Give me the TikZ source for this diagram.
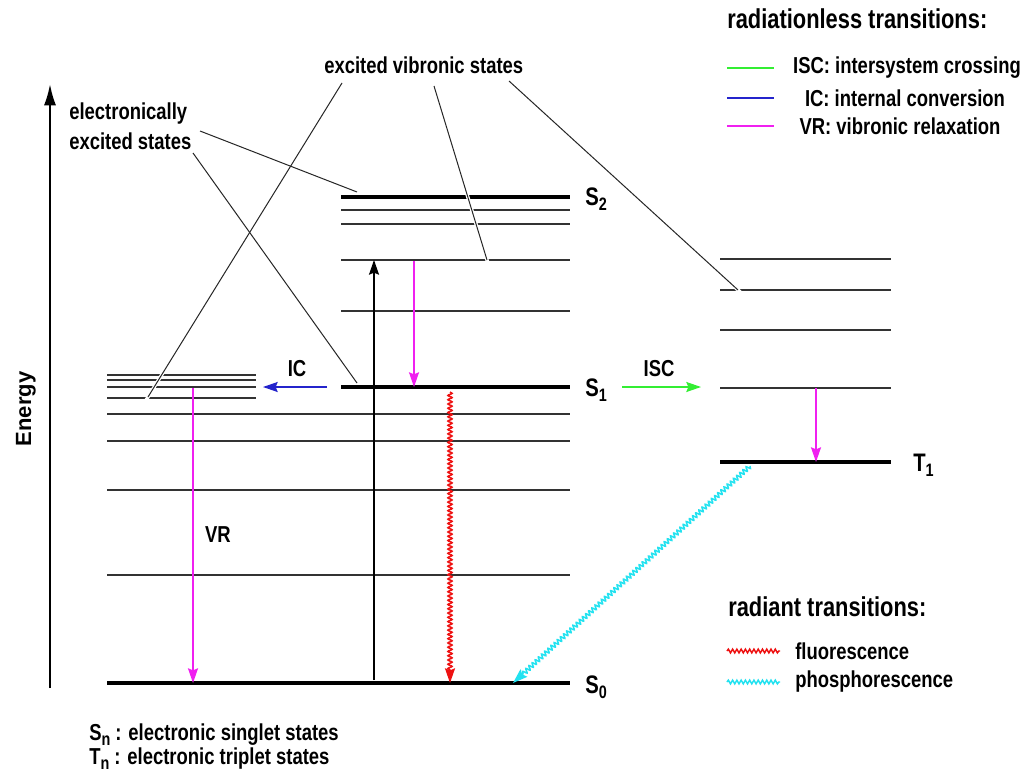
\documentclass[tikz,border=0pt]{standalone}
\usepackage{fontspec}
\setmainfont{Liberation Sans}[FakeStretch=0.8]
\newfontfamily\efont{Liberation Sans}
\usetikzlibrary{arrows.meta,decorations.pathmorphing,calc}
\definecolor{vrmag}{HTML}{F020F0}
\definecolor{icblue}{HTML}{2424CC}
\definecolor{iscgreen}{HTML}{33EE33}
\definecolor{flred}{HTML}{EE1111}
\definecolor{phcyan}{HTML}{22E2F0}
\newcommand{\lowix}[1]{\raisebox{-0.4ex}{\fontsize{13.5}{13}\selectfont #1}}
\tikzset{
  lbl/.style={font=\bfseries\fontsize{17.3}{22}\selectfont, inner sep=0pt},
  head/.style={font=\bfseries\fontsize{20.5}{24}\selectfont, inner sep=0pt},
  slbl/.style={font=\bfseries\fontsize{19}{22}\selectfont, inner sep=0pt, anchor=west},
  lvthin/.style={line width=1pt, draw=black!80},
  lvthick/.style={line width=3.6pt},
  leader/.style={line width=0.75pt, draw=black!85},
  halo/.style={line width=2.6pt, draw=white},
  trans/.style={line width=1.1pt, -{Stealth[length=11pt,width=7.5pt,inset=1.5pt]}},
  wavy/.style={line width=1.1pt, decorate,
     decoration={snake, amplitude=1.6pt, segment length=3.2pt, post length=9pt},
     -{Stealth[length=11pt,width=7.5pt,inset=1.5pt]}},
  wavyleg/.style={line width=1.1pt, decorate,
     decoration={snake, amplitude=1.4pt, segment length=3.2pt}}
}
\begin{document}
\begin{tikzpicture}[x=0.75pt,y=-0.75pt]
\useasboundingbox[fill=white] (0,0) rectangle (1027,774);

% ---------- energy axis ----------
\coordinate (ebot) at (50,688);
\coordinate (etop) at (50,84);
\draw[line width=1.6pt, -{Latex[length=16pt,width=9pt]}] (ebot) -- (etop);
\node[rotate=90, font=\efont\bfseries\fontsize{16.5}{20}\selectfont, inner sep=0pt] (energy) at (26,409) {Energy};

% ---------- left column (S0 vibronic) ----------
\foreach \y/\n in {375/a,380/b,387/c,398/d}{
  \coordinate (L\n w) at (107,\y); \coordinate (L\n e) at (256,\y);
  \draw[lvthin] (L\n w) -- (L\n e);
}
\foreach \y/\n in {414/e,441/f,490/g,575/h}{
  \coordinate (L\n w) at (107,\y); \coordinate (L\n e) at (570,\y);
  \draw[lvthin] (L\n w) -- (L\n e);
}
\coordinate (S0w) at (107,683); \coordinate (S0e) at (570,683);
\draw[lvthick] (S0w) -- (S0e);

% ---------- middle column (S1, S2) ----------
\coordinate (S2w) at (341,197); \coordinate (S2e) at (570,197);
\draw[lvthick] (S2w) -- (S2e);
\foreach \y/\n in {210/a,224/b,260/c,311/d}{
  \coordinate (M\n w) at (341,\y); \coordinate (M\n e) at (570,\y);
  \draw[lvthin] (M\n w) -- (M\n e);
}
\coordinate (S1w) at (341,387); \coordinate (S1e) at (570,387);
\draw[lvthick] (S1w) -- (S1e);

% ---------- right column (T1) ----------
\foreach \y/\n in {259/a,290/b,330/c,388/d}{
  \coordinate (T\n w) at (720,\y); \coordinate (T\n e) at (891,\y);
  \draw[lvthin] (T\n w) -- (T\n e);
}
\coordinate (T1w) at (720,462); \coordinate (T1e) at (891,462);
\draw[lvthick] (T1w) -- (T1e);

% ---------- state labels ----------
\node[slbl] (lS2) at (585,199) {S\lowix{2}};
\node[slbl] (lS1) at (585,390) {S\lowix{1}};
\node[slbl] (lS0) at (585,687) {S\lowix{0}};
\node[slbl] (lT1) at (913,465) {T\lowix{1}};

% ---------- leader labels ----------
\node[lbl, anchor=west] (vib) at (324,65) {excited vibronic states};
\node[lbl, anchor=north west, align=left] (elec) at (69,103) {electronically\\excited states};

\coordinate (v1a) at (342,83);  \coordinate (v1b) at (148,397);
\coordinate (v2a) at (434,86);  \coordinate (v2b) at (487,260);
\coordinate (v3a) at (509,81);  \coordinate (v3b) at (738,290);
\coordinate (e1a) at (200,131); \coordinate (e1b) at (357,192);
\coordinate (e2a) at (193,153); \coordinate (e2b) at (357,383);

\foreach \a/\b in {v1a/v1b,v2a/v2b,v3a/v3b}
  \draw[halo] ($(\a)!0.5!(\b)$) -- ($(\a)!1.02!(\b)$);
\foreach \a/\b in {v1a/v1b,v2a/v2b,v3a/v3b,e1a/e1b,e2a/e2b}
  \draw[leader] (\a) -- (\b);

% ---------- transitions ----------
\coordinate (absA) at (374,680); \coordinate (absB) at (374,260);
\draw[trans, black] (absA) -- (absB);

\coordinate (vr1a) at (414,261); \coordinate (vr1b) at (414,387);
\draw[trans, vrmag] (vr1a) -- (vr1b);
\coordinate (vr2a) at (193,388); \coordinate (vr2b) at (193,683);
\draw[trans, vrmag] (vr2a) -- (vr2b);
\coordinate (vr3a) at (816,388); \coordinate (vr3b) at (816,462);
\draw[trans, vrmag] (vr3a) -- (vr3b);
\node[lbl] (vrl) at (218,535) {VR};

\coordinate (ica) at (327,387); \coordinate (icb) at (263,387);
\draw[trans, icblue] (ica) -- (icb);
\node[lbl] (icl) at (297,369) {IC};

\coordinate (isca) at (622,387); \coordinate (iscb) at (701,387);
\draw[trans, iscgreen] (isca) -- (iscb);
\node[lbl] (iscl) at (659,369) {ISC};

\coordinate (fla) at (450,392); \coordinate (flb) at (450,683);
\draw[wavy, flred] (fla) -- (flb);
\coordinate (pha) at (750,466); \coordinate (phb) at (513,683);
\draw[wavy, phcyan] (pha) -- (phb);

% ---------- legends ----------
\node[head, anchor=west] (h1) at (727,19) {radiationless transitions:};
\coordinate (g1a) at (727,68);  \coordinate (g1b) at (774,68);
\coordinate (g2a) at (727,98);  \coordinate (g2b) at (774,98);
\coordinate (g3a) at (727,126); \coordinate (g3b) at (774,126);
\draw[line width=1.1pt, iscgreen] (g1a) -- (g1b);
\draw[line width=1.1pt, icblue] (g2a) -- (g2b);
\draw[line width=1.1pt, vrmag] (g3a) -- (g3b);
\node[lbl] (t1) at (907,68) {ISC: intersystem crossing};
\node[lbl] (t2) at (905,98) {IC: internal conversion};
\node[lbl] (t3) at (900,126) {VR: vibronic relaxation};

\node[head, anchor=west] (h2) at (728,607) {radiant transitions:};
\coordinate (r1a) at (727,651); \coordinate (r1b) at (780,651);
\coordinate (r2a) at (727,682); \coordinate (r2b) at (780,682);
\draw[wavyleg, flred] (r1a) -- (r1b);
\draw[wavyleg, phcyan] (r2a) -- (r2b);
\node[lbl, anchor=west] (t4) at (795,651) {fluorescence};
\node[lbl, anchor=west] (t5) at (795,682) {phosphorescence};

\node[lbl, anchor=west] (b1) at (89,735) {S\lowix{n} : electronic singlet states};
\node[lbl, anchor=west] (b2) at (89,759) {T\lowix{n} : electronic triplet states};
\end{tikzpicture}
\end{document}
